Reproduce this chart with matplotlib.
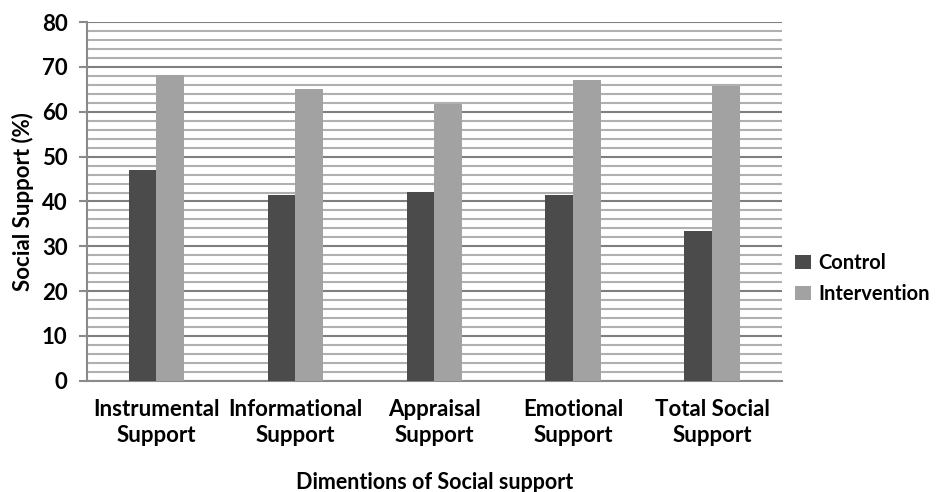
import numpy as np
import matplotlib
matplotlib.use("Agg")
import matplotlib.pyplot as plt
from matplotlib.ticker import MultipleLocator

plt.rcParams["font.family"] = ["Lato", "DejaVu Sans"]
plt.rcParams["font.weight"] = "bold"

categories = ["Instrumental\nSupport", "Informational\nSupport", "Appraisal\nSupport",
              "Emotional\nSupport", "Total Social\nSupport"]
control = [47.0, 41.4, 42.1, 41.4, 33.5]
intervention = [68.2, 65.1, 61.7, 67.1, 65.7]

fig = plt.figure(figsize=(9.36, 4.92), dpi=100)
ax = fig.add_axes([0.093, 0.226, 0.742, 0.729])

x = np.arange(len(categories))
width = 0.2
ax.bar(x - width / 2, control, width, color="#4b4b4b", label="Control", zorder=3)
ax.bar(x + width / 2, intervention, width, color="#a2a2a2", label="Intervention", zorder=3)

ax.set_xlim(-0.5, len(categories) - 0.5)
ax.set_ylim(0, 80)
ax.yaxis.set_major_locator(MultipleLocator(10))
ax.yaxis.set_minor_locator(MultipleLocator(2))
ax.grid(axis="y", which="major", color="#7f7f7f", linewidth=1.5, zorder=0)
ax.grid(axis="y", which="minor", color="#b0b0b0", linewidth=1.5, zorder=0)

for side in ["top", "right"]:
    ax.spines[side].set_visible(False)
ax.spines["left"].set_color("#8a8a8a")
ax.spines["left"].set_linewidth(1.5)
ax.spines["bottom"].set_color("#8a8a8a")
ax.spines["bottom"].set_linewidth(1.5)

ax.tick_params(axis="y", which="major", length=6, width=1.5, color="#8a8a8a",
               labelsize=16, pad=8)
ax.tick_params(axis="y", which="minor", length=0)
ax.tick_params(axis="x", length=0, labelsize=16, pad=13)
ax.set_xticks(x)
ax.set_xticklabels(categories, fontweight="bold", linespacing=1.3)
for lab in ax.get_yticklabels():
    lab.set_fontweight("bold")

ax.set_ylabel("Social Support (%)", fontsize=16, fontweight="bold", labelpad=6)
ax.set_xlabel("Dimentions of Social support", fontsize=15.5, fontweight="bold", labelpad=19)

ax.legend(loc="center left", bbox_to_anchor=(1.02, 0.285), frameon=False,
          borderaxespad=0, borderpad=0,
          handlelength=0.75, handleheight=0.75, handletextpad=0.4,
          labelspacing=0.55, prop={"weight": "bold", "size": 14.5})

fig.savefig("out.png", dpi=100)
